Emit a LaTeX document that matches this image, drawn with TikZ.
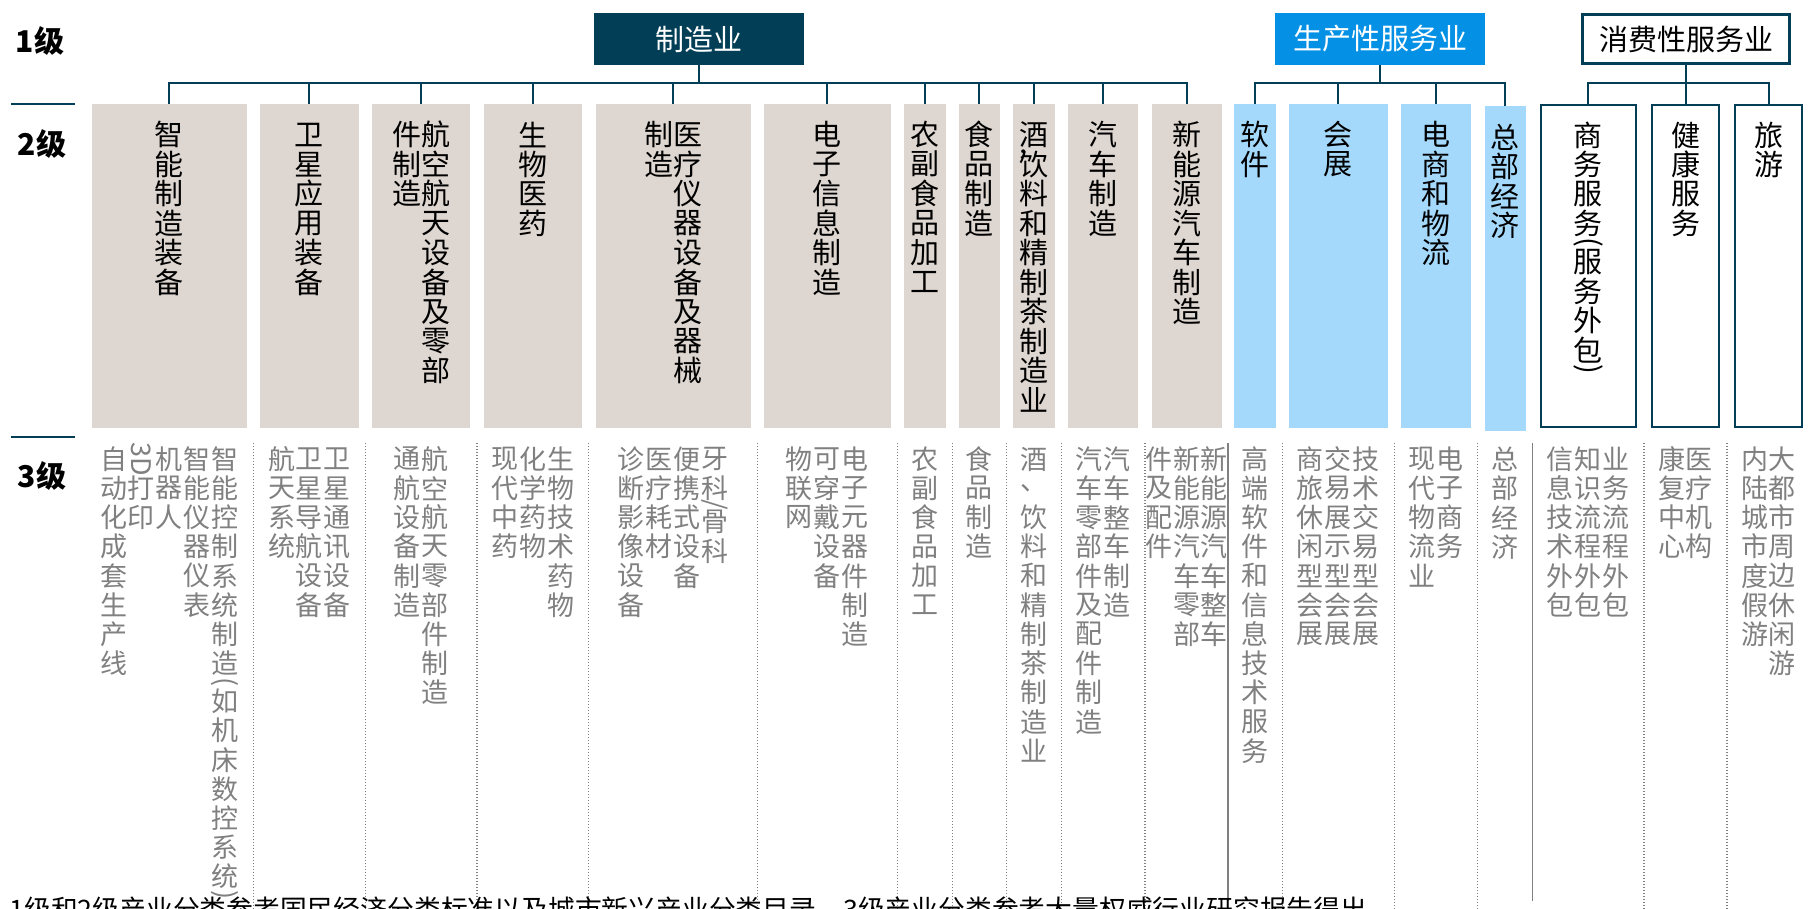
\documentclass[tikz,border=0pt]{standalone}
\usepackage{fontspec}
\usepackage{graphicx}
\setmainfont{Noto Sans CJK SC}

\definecolor{mfg}{HTML}{023F57}
\definecolor{prod}{HTML}{0491E5}
\definecolor{prodlight}{HTML}{A4D9FC}
\definecolor{sand}{HTML}{DED6D0}
\definecolor{subgrey}{HTML}{808080}

\newlength\vpitch
\newlength\vwidth
\newcommand\vrow[2][1]{\vbox to #1\vpitch{\vss\hbox to\vwidth{\hss#2\hss}\vss}}
\ExplSyntaxOn
\NewDocumentCommand\vcol{m}{
  \vtop{\offinterlineskip
    \tl_map_inline:nn {#1}{
      \str_case:nnF {##1}{
        {(}{\vrow[0.3]{\rotatebox{-90}{(}}}
        {)}{\vrow[0.3]{\rotatebox{-90}{)}}}
        {/}{\vrow[0.15]{\rotatebox{-90}{/}}}
        {,}{\vbox to 0pt{\hbox{,}\vss}}
      }{\vrow{##1}}
    }
  }
}
\ExplSyntaxOff

\tikzset{
  lvl1/.style={minimum width=105pt, minimum height=26pt, inner sep=0pt,
    font=\fontsize{14.5pt}{16pt}\selectfont},
  lvl2/.style={minimum height=162pt, inner sep=0pt},
  lab2/.style={anchor=north, inner sep=0pt, yshift=-8pt,
    font=\fontsize{14.5pt}{15pt}\selectfont\setlength\vpitch{14.75pt}\setlength\vwidth{14.5pt}},
  lab3/.style={anchor=north, inner sep=0pt, text=subgrey,
    font=\fontsize{13.5pt}{15pt}\selectfont\setlength\vpitch{14.6pt}\setlength\vwidth{13.9pt}},
  lvlno/.style={font=\bfseries\fontsize{15pt}{16pt}\selectfont},
  wire/.style={draw=mfg, line width=1pt, to path={-- ++(0,18) -| (\tikztotarget)}},
  levelbar/.style={draw=mfg, line width=0.9pt},
  dotsep/.style={draw=subgrey, line width=0.6pt, dash pattern=on 0.6pt off 0.9pt},
  solidsep/.style={draw=subgrey, line width=0.8pt}
}

\begin{document}
\begin{tikzpicture}[x=0.5pt,y=-0.5pt]
      \useasboundingbox (0,0) rectangle (1810,909);

      \node[lvlno] (l1) at (40,41) {1级};
      \node[lvlno] (l2) at (42,144) {2级};
      \node[lvlno] (l3) at (42,476) {3级};
      \draw[levelbar] (11,104) -- (75,104);
      \draw[levelbar] (11,437) -- (75,437);

      \begin{scope}[every node/.style={lvl1}]
        \node[fill=mfg, text=white] (A) at (699,39) {制造业};
        \node[fill=prod, text=white] (B) at (1380,39) {生产性服务业};
        \node[draw=mfg, line width=1.5pt, minimum width=103.5pt, minimum height=24.5pt] (C) at (1686,39) {消费性服务业};
      \end{scope}

      \begin{scope}[every node/.style={lvl2, fill=sand}]
        \node[minimum width=77.25pt] (1)  at (169.25,266) {};
        \node[minimum width=49.3pt]  (2)  at (309.3,266)  {};
        \node[minimum width=49pt]    (3)  at (421,266)    {};
        \node[minimum width=49pt]    (4)  at (533,266)    {};
        \node[minimum width=77.5pt]  (5)  at (673,266)    {};
        \node[minimum width=63.25pt] (6)  at (827.25,266) {};
        \node[minimum width=20.8pt]  (7)  at (924.8,266)  {};
        \node[minimum width=20.7pt]  (8)  at (979.3,266)  {};
        \node[minimum width=21pt]    (9)  at (1034,266)   {};
        \node[minimum width=35.2pt]  (10) at (1103.2,266) {};
        \node[minimum width=35pt]    (11) at (1186.5,266) {};
      \end{scope}

      \begin{scope}[every node/.style={lvl2, fill=prodlight}]
        \node[minimum width=20.8pt]  (12) at (1255.2,266)  {};
        \node[minimum width=49.25pt] (13) at (1338.25,266) {};
        \node[minimum width=35pt]    (14) at (1436,266)    {};
        \node[minimum width=20.5pt]  (15) at (1505,268.5)  {};
      \end{scope}

      \begin{scope}[every node/.style={lvl2, draw=mfg, line width=1.1pt, minimum height=161pt}]
        \node[minimum width=47.6pt] (16) at (1588.25,266) {};
        \node[minimum width=33.4pt] (17) at (1685.5,266)  {};
        \node[minimum width=33.4pt] (18) at (1768.5,266)  {};
      \end{scope}

      \begin{scope}[every edge/.style={wire}]
        \path (A.south) edge (1.north);
        \path (A.south) edge (2.north);
        \path (A.south) edge (3.north);
        \path (A.south) edge (4.north);
        \path (A.south) edge (5.north);
        \path (A.south) edge (6.north);
        \path (A.south) edge (7.north);
        \path (A.south) edge (8.north);
        \path (A.south) edge (9.north);
        \path (A.south) edge (10.north);
        \path (A.south) edge (11.north);
        \path (B.south) edge (12.north);
        \path (B.south) edge (13.north);
        \path (B.south) edge (14.north);
        \path (B.south) edge (15.north);
        \path (C.south) edge (16.north);
        \path (C.south) edge (17.north);
        \path (C.south) edge (18.north);
      \end{scope}

      \begin{scope}[every node/.style={lab2}]
        \node (n1)  at (1.north)  {\vcol{智能制造装备}};
        \node (n2)  at (2.north)  {\vcol{卫星应用装备}};
        \node (n3)  at (3.north)  {\vcol{件制造}\vcol{航空航天设备及零部}};
        \node (n4)  at (4.north)  {\vcol{生物医药}};
        \node (n5)  at (5.north)  {\vcol{制造}\vcol{医疗仪器设备及器械}};
        \node (n6)  at (6.north)  {\vcol{电子信息制造}};
        \node (n7)  at (7.north)  {\vcol{农副食品加工}};
        \node (n8)  at (8.north)  {\vcol{食品制造}};
        \node (n9)  at (9.north)  {\vcol{酒,饮料和精制茶制造业}};
        \node (n10) at (10.north) {\vcol{汽车制造}};
        \node (n11) at (11.north) {\vcol{新能源汽车制造}};
        \node (n12) at (12.north) {\vcol{软件}};
        \node (n13) at (13.north) {\vcol{会展}};
        \node (n14) at (14.north) {\vcol{电商和物流}};
        \node (n15) at (15.north) {\vcol{总部经济}};
        \node (n16) at (16.north) {\vcol{商务服务(服务外包)}};
        \node (n17) at (17.north) {\vcol{健康服务}};
        \node (n18) at (18.north) {\vcol{旅游}};
      \end{scope}

      \begin{scope}[every node/.style={lab3}]
        \node (s1)  at (169.25,444) {\vcol{自动化成套生产线}\vcol{{\rotatebox{-90}{3D}}打印}\vcol{机器人}\vcol{智能仪器仪表}\vcol{智能控制系统制造(如机床数控系统)}};
        \node (s2)  at (309.3,444)  {\vcol{航天系统}\vcol{卫星导航设备}\vcol{卫星通讯设备}};
        \node (s3)  at (421,444)    {\vcol{通航设备制造}\vcol{航空航天零部件制造}};
        \node (s4)  at (533,444)    {\vcol{现代中药}\vcol{化学药物}\vcol{生物技术药物}};
        \node (s5)  at (673,444)    {\vcol{诊断影像设备}\vcol{医疗耗材}\vcol{便携式设备}\vcol{牙科/骨科}};
        \node (s6)  at (827.25,444) {\vcol{物联网}\vcol{可穿戴设备}\vcol{电子元器件制造}};
        \node (s7)  at (924.8,444)  {\vcol{农副食品加工}};
        \node (s8)  at (979.3,444)  {\vcol{食品制造}};
        \node (s9)  at (1034,444)   {\vcol{酒、饮料和精制茶制造业}};
        \node (s10) at (1103.2,444) {\vcol{汽车零部件及配件制造}\vcol{汽车整车制造}};
        \node (s11) at (1186.5,444) {\vcol{件及配件}\vcol{新能源汽车零部}\vcol{新能源汽车整车}};
        \node (s12) at (1255.2,444) {\vcol{高端软件和信息技术服务}};
        \node (s13) at (1338.25,444) {\vcol{商旅休闲型会展}\vcol{交易展示型会展}\vcol{技术交易型会展}};
        \node (s14) at (1436,444)   {\vcol{现代物流业}\vcol{电子商务}};
        \node (s15) at (1505,444)   {\vcol{总部经济}};
        \node (s16) at (1588.25,444) {\vcol{信息技术外包}\vcol{知识流程外包}\vcol{业务流程外包}};
        \node (s17) at (1685.5,444) {\vcol{康复中心}\vcol{医疗机构}};
        \node (s18) at (1768.5,444) {\vcol{内陆城市度假游}\vcol{大都市周边休闲游}};
      \end{scope}

      \foreach \x in {253.25,365.3,477,588.8,757.25,897.25,952.1,1006.5,1061.5,1145,1282.5,1394.25,1477.75,1644,1727}
        \draw[dotsep] (\x,443) -- (\x,909);
      \draw[solidsep] (1228,443) -- (1228,901);
      \draw[solidsep] (1532.5,443) -- (1532.5,901);

      \node[anchor=base west, inner sep=0pt, font=\fontsize{13.4pt}{14pt}\selectfont] (note) at (9,919) {1级和2级产业分类参考国民经济分类标准以及城市新兴产业分类目录，3级产业分类参考大量权威行业研究报告得出};

    \end{tikzpicture}
\end{document}
